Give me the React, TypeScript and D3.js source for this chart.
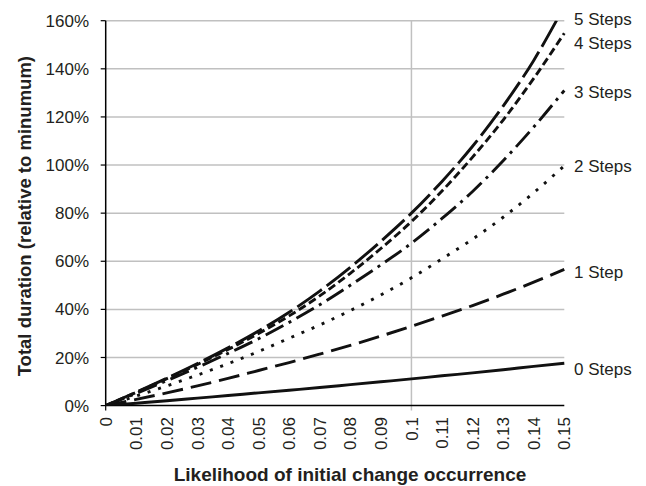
import React from "react";
import * as d3 from "d3";

const likelihood = [0, 0.01, 0.02, 0.03, 0.04, 0.05, 0.06, 0.07, 0.08, 0.09, 0.1, 0.11, 0.12, 0.13, 0.14, 0.15];
const steps0 = [0, 1.0, 2.0, 3.1, 4.2, 5.3, 6.4, 7.5, 8.7, 9.9, 11.1, 12.4, 13.6, 14.9, 16.3, 17.6];
const steps1 = [0, 2.6, 5.3, 8.2, 11.3, 14.6, 17.9, 21.4, 25.0, 28.9, 33.0, 37.2, 41.6, 46.3, 51.3, 56.6];
const steps2 = [0, 4.0, 8.2, 12.7, 17.4, 22.5, 28.0, 33.5, 39.5, 46.0, 53.1, 61.0, 69.2, 78.3, 88.5, 99.7];
const steps3 = [0, 5.1, 10.4, 15.9, 21.7, 27.8, 34.6, 41.9, 50.0, 58.5, 67.5, 77.8, 89.0, 101.8, 115.8, 131.0];
const steps4 = [0, 5.5, 11.2, 17.1, 23.3, 30.0, 37.3, 45.6, 55.0, 65.3, 76.5, 89.2, 103.3, 118.7, 136.0, 154.8];
const steps5 = [0, 5.6, 11.4, 17.5, 24.0, 31.0, 38.8, 47.6, 57.5, 68.3, 80.0, 93.2, 107.8, 124.5, 143.5, 166.0];

const seriesNames = ["0 Steps", "1 Step", "2 Steps", "3 Steps", "4 Steps", "5 Steps"];
const seriesLabelAt = [15.2, 55.5, 99.6, 130.4, 150.8, 160.7];
const yTicks = [0, 20, 40, 60, 80, 100, 120, 140, 160];
const xTicks = likelihood;
const xTickLabels = ["0", "0.01", "0.02", "0.03", "0.04", "0.05", "0.06", "0.07", "0.08", "0.09", "0.1", "0.11", "0.12", "0.13", "0.14", "0.15"];
const xMajor = [0, 0.1];

const seriesValues = [steps0, steps1, steps2, steps3, steps4, steps5];
const dashes = ["none", "21,8", "3,8", "20,6,3,6", "8,4", "30,6"];

const FONT = "'Liberation Sans', Arial, Helvetica, sans-serif";
const TXT = "#231f20";

export default function App() {
  const x = d3.scaleLinear().domain([0, 0.15]).range([105.7, 564.3]);
  const y = d3.scaleLinear().domain([0, 160]).range([405.6, 20.7]);
  const line = d3
    .line<[number, number]>()
    .x((d) => x(d[0]))
    .y((d) => y(d[1]))
    .curve(d3.curveMonotoneX);

  const [x0, x1] = x.range();
  const [y0, y1] = y.range();

  return (
    <svg
      width={646}
      height={486}
      style={{ position: "absolute", left: 0, top: 0, background: "#fff" }}
      fontFamily={FONT}
    >
      <defs>
        <clipPath id="plot">
          <rect x={x0} y={y1} width={x1 - x0 + 2} height={y0 - y1} />
        </clipPath>
      </defs>
      <rect x={0} y={0} width={646} height={486} fill="#fff" />
      {yTicks.filter((t) => t > 0).map((t) => (
        <line key={"g" + t} x1={x0} x2={x1} y1={y(t)} y2={y(t)} stroke="#c0c0c0" strokeWidth={1.5} />
      ))}
      <line x1={x(0.1)} x2={x(0.1)} y1={y1} y2={y0 + 5} stroke="#c0c0c0" strokeWidth={1.5} />
      <line x1={x0} x2={x0} y1={y1} y2={y0} stroke="#000" strokeWidth={1.5} />
      <line x1={x0} x2={x1} y1={y0} y2={y0} stroke="#000" strokeWidth={1.5} />
      {yTicks.map((t) => (
        <line key={"yt" + t} x1={x0 - 5} x2={x0} y1={y(t)} y2={y(t)} stroke="#000" strokeWidth={1.2} />
      ))}
      <line x1={x(xMajor[0])} x2={x(xMajor[0])} y1={y0} y2={y0 + 5} stroke="#000" strokeWidth={1.2} />
      {yTicks.map((t) => (
        <text key={"yl" + t} x={89} y={y(t)} dy="0.36em" textAnchor="end" fontSize={17} fill={TXT}>
          {t + "%"}
        </text>
      ))}
      {xTicks.map((t, i) => (
        <text
          key={"xl" + i}
          transform={`translate(${x(t)},${417}) rotate(-90)`}
          dy="0.36em"
          textAnchor="end"
          fontSize={17}
          fill={TXT}
        >
          {xTickLabels[i]}
        </text>
      ))}
      <g clipPath="url(#plot)">
        {seriesValues.map((vals, i) => (
          <path
            key={"s" + i}
            d={line(likelihood.map((p, j) => [p, vals[j]] as [number, number])) || ""}
            fill="none"
            stroke="#111"
            strokeWidth={2.9}
            strokeDasharray={dashes[i]}
          />
        ))}
      </g>
      {seriesNames.map((n, i) => (
        <text key={"n" + i} x={574} y={y(seriesLabelAt[i])} dy="0.36em" fontSize={17} fill={TXT}>
          {n}
        </text>
      ))}
      <text
        transform={`translate(31,${(y0 + y1) / 2 + 3}) rotate(-90)`}
        textAnchor="middle"
        fontSize={18.5}
        fontWeight="bold"
        fill={TXT}
      >
        Total duration (relative to minumum)
      </text>
      <text x={350} y={481} textAnchor="middle" fontSize={19} fontWeight="bold" fill={TXT}>
        Likelihood of initial change occurrence
      </text>
    </svg>
  );
}
